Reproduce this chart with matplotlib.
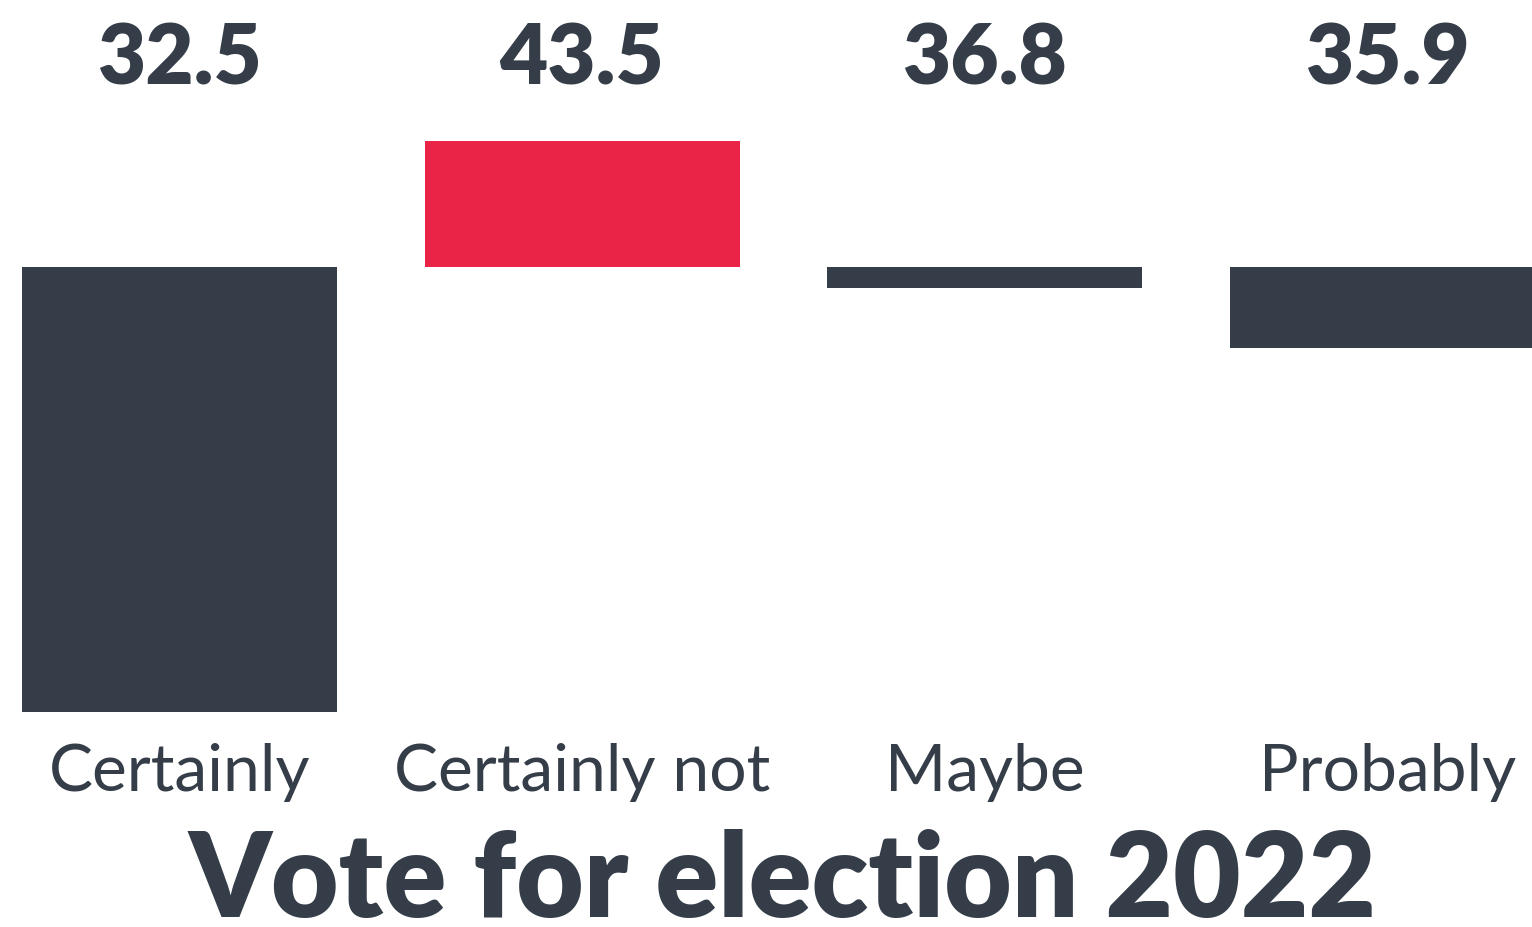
import matplotlib
matplotlib.use('Agg')
import matplotlib.pyplot as plt

# data
categories = ['Certainly', 'Certainly not', 'Maybe', 'Probably']
labels = ['32.5', '43.5', '36.8', '35.9']
bar_bottom = [0.0, 32.5, 31.0, 26.6]
bar_top = [32.5, 41.7, 32.5, 32.5]
highlight = [False, True, False, False]

dark = '#343d48'
red = '#ea2447'

plt.rcParams['font.family'] = ['Lato', 'DejaVu Sans']

fig = plt.figure(figsize=(15.32, 9.27), dpi=100)
ax = fig.add_axes([0, 0, 1, 1])

x = list(range(len(categories)))
heights = [t - b for t, b in zip(bar_top, bar_bottom)]
colors = [red if h else dark for h in highlight]
ax.bar(x, heights, bottom=bar_bottom, width=0.7826, color=colors, linewidth=0)

for i, (cat, lab) in enumerate(zip(categories, labels)):
    ax.text(i, 47.6, lab, ha='center', va='center', fontsize=60,
            fontweight='heavy', color=dark)
    ax.text(i, -4.4, cat, ha='center', va='center', fontsize=47.5,
            color=dark)

ax.text(1.497, -14.95, 'Vote for election 2022', ha='center', va='baseline',
        fontsize=84, fontweight='heavy', color=dark)

ax.set_xlim(-0.446, 3.360)
ax.set_ylim(-15.7, 52.0)
ax.axis('off')

fig.savefig('out.png', dpi=100, facecolor='white')
